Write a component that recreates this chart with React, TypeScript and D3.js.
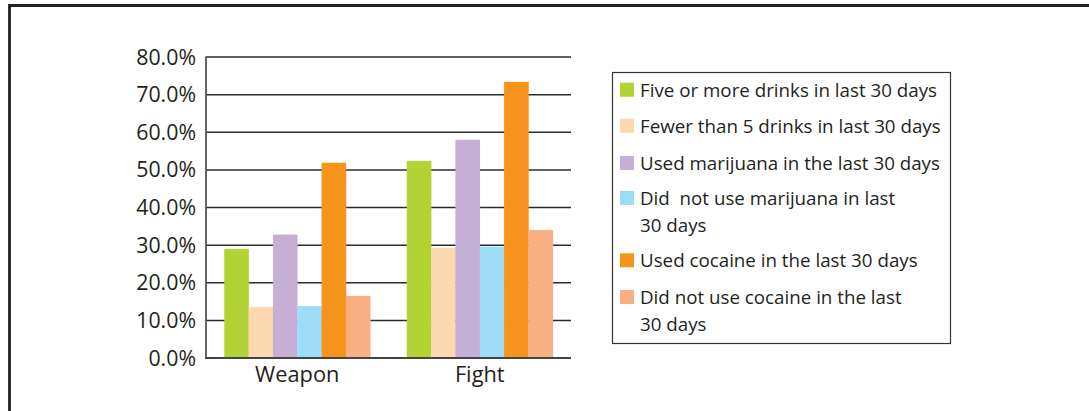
import React from "react";
import * as d3 from "d3";

const categories = ["Weapon", "Fight"];
const seriesNames = [
  "Five or more drinks in last 30 days",
  "Fewer than 5 drinks in last 30 days",
  "Used marijuana in the last 30 days",
  "Did  not use marijuana in last\n30 days",
  "Used cocaine in the last 30 days",
  "Did not use cocaine in the last\n30 days",
];
const seriesColors = ["#b3d334", "#fcd9b1", "#c5afd4", "#9ddcf6", "#f7941d", "#f8b083"];
// percent values per series, in category order [Weapon, Fight]
const fiveOrMore = [29.0, 52.4];
const fewerThan5 = [13.6, 29.3];
const usedMarijuana = [32.8, 58.0];
const noMarijuana = [13.8, 29.6];
const usedCocaine = [51.9, 73.4];
const noCocaine = [16.5, 34.0];
const seriesValues = [fiveOrMore, fewerThan5, usedMarijuana, noMarijuana, usedCocaine, noCocaine];
const yTicks = [0, 10, 20, 30, 40, 50, 60, 70, 80];

const W = 1089;
const H = 411;
const FONT = "'Open Sans', sans-serif";
const INK = "#231f20";

export default function App() {
  const x0 = d3.scaleBand<string>().domain(categories).range([206, 571]).paddingInner(0.2).paddingOuter(0.1);
  const x1 = d3
    .scaleBand<number>()
    .domain(d3.range(seriesNames.length))
    .range([0, x0.bandwidth()])
    .padding(0);
  const y = d3.scaleLinear().domain([0, 80]).range([358, 57]);

  const legendX = 612;
  const legendY = 72;
  const rowBaselines = [96.7, 132.7, 170, 205, 267.3, 304];
  const wrapGap = 26.7;

  return (
    <svg width={W} height={H} style={{ position: "absolute", left: 0, top: 0, background: "#fff" }}>
      {/* outer frame: left and top edges */}
      <path d="M9.5,411 L9.5,5.5 L1089,5.5" fill="none" stroke={INK} strokeWidth={2.8} />

      {/* gridlines */}
      {yTicks.slice(1).map((t) => (
        <line key={t} x1={206} x2={571} y1={y(t)} y2={y(t)} stroke="#2b2b2b" strokeWidth={1.5} />
      ))}

      {/* bars */}
      {categories.map((c, ci) => (
        <g key={c}>
          {seriesValues.map((vals, si) => (
            <rect
              key={si}
              x={(x0(c) as number) + (x1(si) as number)}
              y={y(vals[ci])}
              width={x1.bandwidth() + 0.3}
              height={y(0) - y(vals[ci])}
              fill={seriesColors[si]}
            />
          ))}
        </g>
      ))}

      {/* axes lines */}
      <line x1={206} x2={206} y1={56.5} y2={358.5} stroke="#555" strokeWidth={1.8} />
      <line x1={205} x2={571} y1={358} y2={358} stroke="#444" strokeWidth={1.8} />

      {/* y tick labels */}
      {yTicks.map((t) => (
        <text
          key={t}
          x={196}
          y={y(t) + 7.5}
          textAnchor="end"
          fontFamily={FONT}
          fontSize={21.3}
          fill={INK}
        >
          {d3.format(".1f")(t) + "%"}
        </text>
      ))}

      {/* category labels */}
      {categories.map((c) => (
        <text
          key={c}
          x={(x0(c) as number) + x0.bandwidth() / 2}
          y={381.7}
          textAnchor="middle"
          fontFamily={FONT}
          fontSize={21.8}
          fill={INK}
        >
          {c}
        </text>
      ))}

      {/* legend */}
      <rect x={legendX + 0.5} y={legendY + 0.5} width={338} height={271} fill="none" stroke="#333" strokeWidth={1.2} />
      {seriesNames.map((name, i) => {
        const lines = name.split("\n");
        const by = rowBaselines[i];
        return (
          <g key={i}>
            <rect x={620} y={by - 14} width={14} height={14} fill={seriesColors[i]} />
            {lines.map((ln, li) => (
              <text
                key={li}
                x={640}
                y={by + li * wrapGap}
                fontFamily={FONT}
                fontSize={18.75}
                fill={INK}
                style={{ whiteSpace: "pre" }}
              >
                {ln}
              </text>
            ))}
          </g>
        );
      })}
    </svg>
  );
}
